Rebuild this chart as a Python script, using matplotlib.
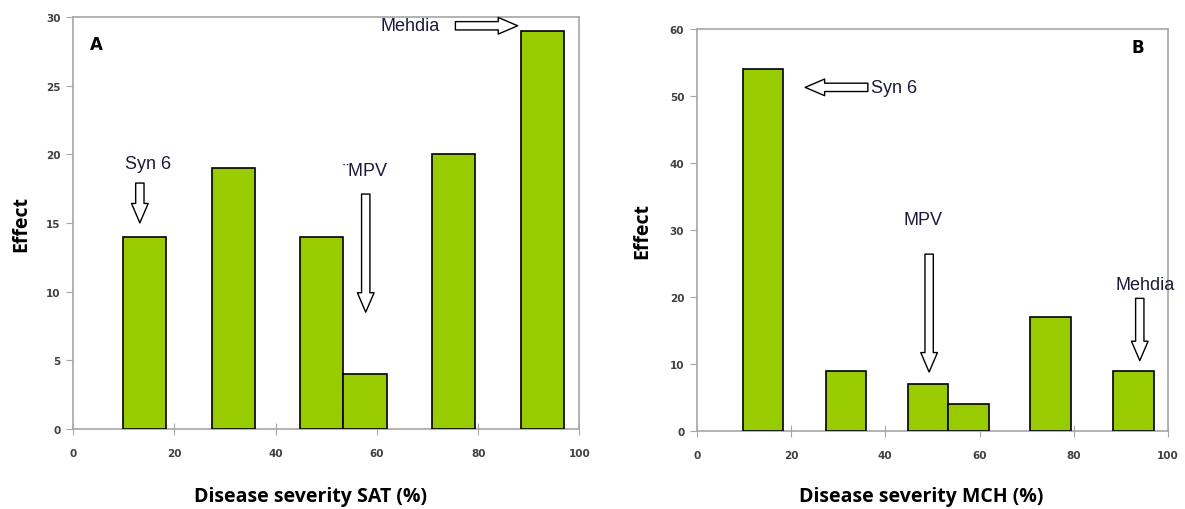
import matplotlib.pyplot as plt

# bar left edges (shared by both panels) and bar width, % disease severity
bin_edges = [9.8, 27.4, 44.8, 53.4, 70.8, 88.4]
bin_width = 8.6

effect_sat = [14, 19, 14, 4, 20, 29]
effect_mch = [54, 9, 7, 4, 17, 9]

BAR_COLOR = "#99cc00"
SPINE_COLOR = "#a6a6a6"
NOTE_COLOR = "#1a1a3a"
NOTE_FONT = ["Liberation Sans", "DejaVu Sans"]


def style_axes(ax, ymax, ystep, label_x):
    ax.set_xlim(0, 100)
    ax.set_ylim(0, ymax)
    ax.set_xticks(range(0, 101, 20))
    ax.set_yticks(range(0, ymax + 1, ystep))
    for spine in ax.spines.values():
        spine.set_color(SPINE_COLOR)
        spine.set_linewidth(1.2)
    ax.tick_params(axis="x", direction="inout", length=9, pad=9,
                   colors=SPINE_COLOR, labelcolor="#404040", labelsize=7.5)
    ax.tick_params(axis="y", direction="out", length=5, pad=4,
                   colors=SPINE_COLOR, labelcolor="#404040", labelsize=7.5)
    for lab in ax.get_xticklabels() + ax.get_yticklabels():
        lab.set_fontweight("bold")
    ax.set_ylabel("Effect", fontsize=14, fontweight="bold", family="Open Sans")
    ax.yaxis.set_label_coords(label_x, 0.5)


def block_arrow(ax, text_xy, tail, head, label, ha="center"):
    ax.annotate("", xy=head, xytext=tail,
                arrowprops=dict(arrowstyle="simple,head_length=1.4,head_width=1.2,tail_width=0.6",
                                fc="white", ec="black", lw=1.0,
                                shrinkA=0, shrinkB=0))
    ax.text(text_xy[0], text_xy[1], label, ha=ha, va="center",
            fontsize=13, color=NOTE_COLOR, family=NOTE_FONT)


fig = plt.figure(figsize=(11.85, 5.1), dpi=100)
ax1 = fig.add_axes([0.0616, 0.157, 0.4274, 0.808])
ax2 = fig.add_axes([0.588, 0.153, 0.3977, 0.788])

ax1.bar(bin_edges, effect_sat, width=bin_width, align="edge",
        color=BAR_COLOR, edgecolor="black", linewidth=1.2, zorder=3)
style_axes(ax1, 30, 5, -0.083)
ax1.text(4.7, 28.0, "A", fontsize=12, fontweight="bold", ha="center", va="center")
block_arrow(ax1, (14.8, 19.3), (13.2, 17.9), (13.2, 15.0), "Syn 6")
block_arrow(ax1, (57.6, 18.8), (57.8, 17.1), (57.8, 8.5), "¨MPV")
block_arrow(ax1, (66.5, 29.4), (75.5, 29.35), (87.8, 29.35), "Mehdia")
fig.text(0.262, 0.025, "Disease severity SAT (%)", ha="center", va="center",
         fontsize=14, fontweight="bold", family="Open Sans")

ax2.bar(bin_edges, effect_mch, width=bin_width, align="edge",
        color=BAR_COLOR, edgecolor="black", linewidth=1.2, zorder=3)
style_axes(ax2, 60, 10, -0.095)
ax2.text(93.6, 57.3, "B", fontsize=12, fontweight="bold", ha="center", va="center")
block_arrow(ax2, (37.0, 51.3), (36.3, 51.3), (23.0, 51.3), "Syn 6", ha="left")
block_arrow(ax2, (48.0, 31.6), (49.3, 26.4), (49.3, 8.8), "MPV")
block_arrow(ax2, (95.1, 21.9), (94.0, 19.8), (94.0, 10.5), "Mehdia")
fig.text(0.777, 0.025, "Disease severity MCH (%)", ha="center", va="center",
         fontsize=14, fontweight="bold", family="Open Sans")

fig.savefig("out.png", dpi=100)
